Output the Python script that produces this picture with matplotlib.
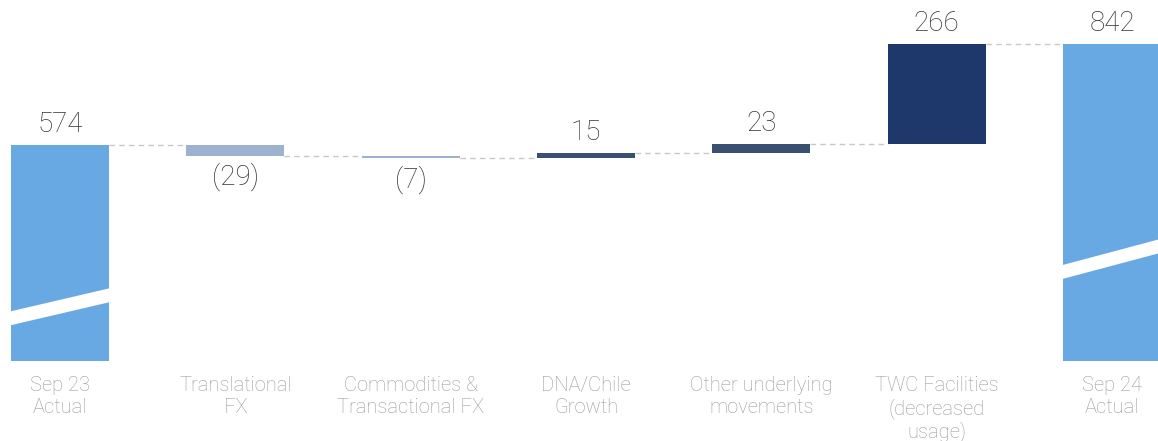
import matplotlib.pyplot as plt
from matplotlib.patches import Polygon

# Waterfall data (USD m)
categories = ['Sep 23\nActual', 'Translational\nFX', 'Commodities &\nTransactional FX',
              'DNA/Chile\nGrowth', 'Other underlying\nmovements',
              'TWC Facilities\n(decreased\nusage)', 'Sep 24\nActual']
values = [574, -29, -7, 15, 23, 266, 842]
kinds = ['total', 'neg', 'neg', 'pos', 'pos', 'big', 'total']

colors = {'total': '#68a8e3', 'neg': '#9db1d0', 'pos': '#3a5070', 'big': '#1f386c'}
# white "axis break" stripes on the total bars: lower edge at left / right of bar
break_levels = {0: (94, 157), 6: (217, 289)}
break_thickness = 37

plt.rcParams['font.family'] = ['Roboto', 'DejaVu Sans']

fig = plt.figure(figsize=(11.58, 4.41), dpi=100)
ax = fig.add_axes([0, 80 / 441, 1, 361 / 441])
width = 0.56

running = 0
levels = []
for i, (v, k) in enumerate(zip(values, kinds)):
    if k == 'total':
        bottom, height = 0, v
        running = v
    else:
        bottom = running if v > 0 else running + v
        height = abs(v)
        running += v
    levels.append(running)
    ax.bar(i, height, bottom=bottom, width=width, color=colors[k], zorder=2)

    # value label
    if v < 0:
        ax.annotate('(%d)' % abs(v), xy=(i, bottom), xytext=(0, -5), textcoords='offset points',
                    ha='center', va='top', fontsize=20, color='#333333', fontweight='light')
    else:
        ax.annotate('%d' % v, xy=(i, bottom + height), xytext=(0, 9.5), textcoords='offset points',
                    ha='center', va='baseline', fontsize=20, color='#333333', fontweight='light')

    # category label
    ax.annotate(categories[i], xy=(i, 0), xytext=(0, -11), textcoords='offset points',
                ha='center', va='top', fontsize=14.5, color='#9a9a9a', fontweight='light',
                linespacing=1.15)

# axis break stripes
for i, (yl, yr) in break_levels.items():
    x0, x1 = i - width / 2 - 0.01, i + width / 2 + 0.01
    ax.add_patch(Polygon([(x0, yl), (x1, yr), (x1, yr + break_thickness), (x0, yl + break_thickness)],
                         closed=True, facecolor='white', edgecolor='none', zorder=3))

# dashed connectors
for i in range(len(values) - 1):
    ax.plot([i + width / 2, i + 1 - width / 2], [levels[i], levels[i]],
            color='#c8c8c8', lw=1, ls=(0, (4, 3)), zorder=1)

ax.set_xlim(-0.342, 6.262)
ax.set_ylim(0, 959)
ax.axis('off')

fig.savefig('out.png', dpi=100)
